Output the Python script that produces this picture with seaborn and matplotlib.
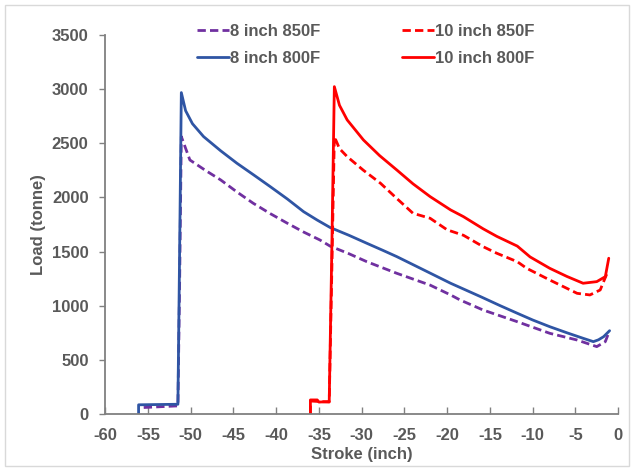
import seaborn as sns
import matplotlib.pyplot as plt
from matplotlib.patches import Rectangle
import pandas as pd

# stroke (inch) / load (tonne)
x_8_800 = [-56.1, -56.1, -51.5, -51.3, -51.1, -50.6, -49.8, -48.5, -46.5, -44.6, -42.6, -40.7,
           -38.7, -36.8, -35.2, -33.7, -31.5, -29.4, -27.5, -25.9, -23.0, -19.6, -16.0, -13.8,
           -11.8, -10.0, -8.0, -6.0, -4.1, -2.9, -2.3, -1.7, -1.0]
y_8_800 = [0, 85, 90, 1500, 2967, 2800, 2680, 2561, 2430, 2315, 2205, 2099,
           1985, 1868, 1790, 1722, 1650, 1576, 1510, 1453, 1340, 1207, 1080, 1000,
           930, 868, 806, 750, 699, 668, 685, 714, 769]

x_8_850 = [-55.5, -51.5, -51.3, -51.1, -50.1, -48.3, -46.5, -44.6, -42.7, -40.7, -38.7, -36.8,
           -34.9, -33.7, -31.5, -29.4, -25.9, -22.0, -19.6, -18.5, -15.8, -11.8, -8.0, -4.8,
           -2.5, -1.5, -1.2]
y_8_850 = [60, 75, 1200, 2561, 2345, 2250, 2161, 2050, 1946, 1850, 1761, 1680,
           1607, 1550, 1480, 1406, 1299, 1190, 1099, 1053, 960, 852, 745, 683,
           622, 668, 730]

x_10_800 = [-36.0, -36.0, -35.2, -35.0, -33.8, -33.5, -33.2, -32.6, -31.7, -29.8, -27.9, -25.9,
            -24.0, -22.0, -19.6, -18.1, -15.8, -14.2, -11.8, -10.3, -8.0, -6.0, -4.1, -2.5,
            -1.5, -1.1]
y_10_800 = [0, 130, 130, 110, 115, 1500, 3022, 2850, 2715, 2530, 2385, 2253,
            2125, 2007, 1884, 1822, 1710, 1640, 1550, 1450, 1345, 1270, 1207, 1222,
            1268, 1438]

x_10_850 = [-36.0, -36.0, -33.8, -33.5, -33.2, -32.6, -31.7, -29.8, -27.8, -25.9, -24.0, -22.0,
            -20.0, -18.1, -15.8, -14.2, -11.8, -10.7, -8.0, -4.8, -3.3, -2.1, -1.3]
y_10_850 = [0, 120, 110, 1300, 2561, 2450, 2376, 2250, 2130, 1990, 1853, 1807,
            1700, 1650, 1545, 1484, 1406, 1345, 1237, 1114, 1099, 1145, 1299]

sns.set_style("white")
plt.rcParams['font.family'] = ['Liberation Sans', 'DejaVu Sans']
plt.rcParams['font.weight'] = 'bold'
plt.rcParams['axes.unicode_minus'] = False
txt = '#595959'
fs = 12

fig = plt.figure(figsize=(6.34, 4.71), dpi=100)
ax = fig.add_axes([0.166, 0.121, 0.809, 0.805])

series = [
    ('8 inch 850F', x_8_850, y_8_850, '#7030A0', (0, (3, 1.5))),
    ('8 inch 800F', x_8_800, y_8_800, '#2F55A4', '-'),
    ('10 inch 850F', x_10_850, y_10_850, '#FF0000', (0, (3, 1.5))),
    ('10 inch 800F', x_10_800, y_10_800, '#FF0000', '-'),
]
for name, xs, ys, col, ls in series:
    df = pd.DataFrame({'Stroke': xs, 'Load': ys})
    sns.lineplot(data=df, x='Stroke', y='Load', ax=ax, sort=False, estimator=None,
                 color=col, linestyle=ls, linewidth=2, label=name)

ax.set_xlim(-60, 0)
ax.set_ylim(0, 3500)
ax.set_xticks(range(-60, 1, 5))
ax.set_yticks(range(0, 3501, 500))
for s in ['top', 'right']:
    ax.spines[s].set_visible(False)
for s in ['left', 'bottom']:
    ax.spines[s].set_color('#808080')
    ax.spines[s].set_linewidth(1.3)
ax.tick_params(axis='x', direction='in', length=5, width=1, color='#808080',
               labelsize=fs, labelcolor=txt, pad=10, bottom=True)
ax.tick_params(axis='y', direction='out', length=4, width=1, color='#808080',
               labelsize=fs, labelcolor=txt, pad=8, left=True)
ax.set_xlabel('Stroke (inch)', fontsize=fs, color=txt, fontweight='bold', labelpad=3)
ax.set_ylabel('Load (tonne)', fontsize=fs, color=txt, fontweight='bold', labelpad=4)

leg = ax.legend(ncol=2, loc='center', bbox_to_anchor=(0.577, 0.905),
                bbox_transform=fig.transFigure, frameon=False, fontsize=fs,
                handlelength=1.9, handletextpad=0.1, columnspacing=4.9, labelspacing=0.7)
for t in leg.get_texts():
    t.set_color(txt)

fig.patches.append(Rectangle((5 / 634, 5 / 471), 1 - 10 / 634, 1 - 10 / 471,
                             transform=fig.transFigure, fill=False,
                             edgecolor='#d9d9d9', linewidth=1))

fig.savefig('out.png', dpi=100)
